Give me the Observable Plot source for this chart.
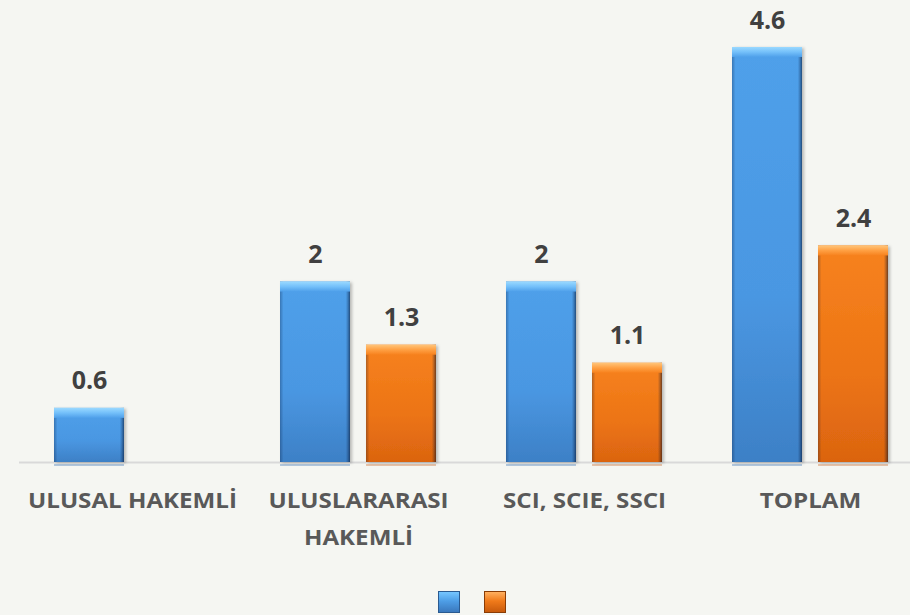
<!DOCTYPE html>
<html>
<head>
<meta charset="utf-8">
<script src="https://cdn.jsdelivr.net/npm/d3@7"></script>
<script src="https://cdn.jsdelivr.net/npm/@observablehq/plot@0.6"></script>
<style>
  html, body { margin: 0; padding: 0; background: #f5f6f2; }
  #chart { width: 910px; }
  .legend { display: flex; justify-content: center; gap: 24px; padding-top: 11px; margin-left: 34px; }
  .sw { width: 22px; height: 22px; box-sizing: border-box; }
  .sw.blue { background: linear-gradient(#75c6ff 0%, #4e9ee6 45%, #3a78bd 100%); border: 1px solid #2a5a90; }
  .sw.orange { background: linear-gradient(#ffb060 0%, #f07a1a 45%, #c85a0c 100%); border: 1px solid #8a3c05; }
</style>
</head>
<body>
<div id="chart"></div>
<script>
// ---- data ----
const categories = ["ULUSAL HAKEMLİ", "ULUSLARARASI\nHAKEMLİ", "SCI, SCIE, SSCI", "TOPLAM"];
const series1 = [0.6, 2, 2, 4.6];
const series2 = [null, 1.3, 1.1, 2.4];

const d1 = categories.map((c, i) => ({cat: c, v: series1[i]})).filter(d => d.v != null);
const d2 = categories.map((c, i) => ({cat: c, v: series2[i]})).filter(d => d.v != null);

const inset = 86;
const font = "'Open Sans', sans-serif";

const svg = Plot.plot({
  width: 910,
  height: 580,
  marginLeft: 19,
  marginRight: 0,
  marginTop: 0,
  marginBottom: 0,
  style: {background: "#f5f6f2", fontFamily: font},
  x: {domain: categories, range: [19, 923], paddingInner: 0.31, paddingOuter: 0.155, axis: null},
  y: {domain: [0, 4.6], range: [462, 47], axis: null},
  marks: [
    Plot.ruleY([0], {stroke: "#d9d9d9", strokeWidth: 2}),
    // reflection strip under baseline
    Plot.tickY(d1, {x: "cat", y: 0, dy: 2.5, stroke: "#6f98c8", strokeWidth: 1.2, insetRight: inset}),
    Plot.tickY(d2, {x: "cat", y: 0, dy: 2.5, stroke: "#d89060", strokeWidth: 1.2, insetLeft: inset}),
    // bar bodies
    Plot.barY(d1, {x: "cat", y: "v", fill: "url(#blueBody)", insetRight: inset}),
    Plot.barY(d2, {x: "cat", y: "v", fill: "url(#orangeBody)", insetLeft: inset}),
    // edge shading
    Plot.barY(d1, {x: "cat", y: "v", fill: "url(#edges)", insetRight: inset}),
    Plot.barY(d2, {x: "cat", y: "v", fill: "url(#edges)", insetLeft: inset}),
    // top bevel
    Plot.barY(d1, {x: "cat", y1: "v", y2: "v", insetBottom: -10, fill: "url(#blueTop)", insetRight: inset}),
    Plot.barY(d2, {x: "cat", y1: "v", y2: "v", insetBottom: -10, fill: "url(#orangeTop)", insetLeft: inset}),
    // value labels
    Plot.text(d1, {x: "cat", y: "v", text: d => String(d.v), dx: -43, dy: -19, lineAnchor: "bottom",
      fontSize: 25, fontWeight: 700, fill: "#404040", fontFamily: font}),
    Plot.text(d2, {x: "cat", y: "v", text: d => String(d.v), dx: 43, dy: -19, lineAnchor: "bottom",
      fontSize: 25, fontWeight: 700, fill: "#404040", fontFamily: font}),
    // category labels
    Plot.text(categories, {x: d => d, y: 0, text: d => d, dy: 19, lineAnchor: "top", lineHeight: 1.76,
      fontSize: 21, fontWeight: 700, fill: "#595959", fontFamily: font})
  ]
});

const defs = document.createElementNS("http://www.w3.org/2000/svg", "defs");
defs.innerHTML = `
  <linearGradient id="blueBody" x1="0" y1="0" x2="0" y2="1">
    <stop offset="0" stop-color="#4fa0ea"/>
    <stop offset="0.6" stop-color="#4a97e2"/>
    <stop offset="1" stop-color="#3d80c6"/>
  </linearGradient>
  <linearGradient id="orangeBody" x1="0" y1="0" x2="0" y2="1">
    <stop offset="0" stop-color="#f7821e"/>
    <stop offset="0.6" stop-color="#ec7415"/>
    <stop offset="1" stop-color="#db6410"/>
  </linearGradient>
  <linearGradient id="edges" x1="0" y1="0" x2="1" y2="0">
    <stop offset="0" stop-color="#001030" stop-opacity="0.28"/>
    <stop offset="0.05" stop-color="#001030" stop-opacity="0"/>
    <stop offset="0.94" stop-color="#001030" stop-opacity="0"/>
    <stop offset="0.97" stop-color="#001030" stop-opacity="0.25"/>
    <stop offset="1" stop-color="#000820" stop-opacity="0.55"/>
  </linearGradient>
  <linearGradient id="blueTop" x1="0" y1="0" x2="0" y2="1">
    <stop offset="0" stop-color="#9ad9ff"/>
    <stop offset="0.5" stop-color="#74c0fa"/>
    <stop offset="1" stop-color="#4fa0ea"/>
  </linearGradient>
  <linearGradient id="orangeTop" x1="0" y1="0" x2="0" y2="1">
    <stop offset="0" stop-color="#ffc57a"/>
    <stop offset="0.5" stop-color="#ffa043"/>
    <stop offset="1" stop-color="#f7821e"/>
  </linearGradient>
  <filter id="shadow" x="-10%" y="-10%" width="130%" height="130%">
    <feDropShadow dx="2" dy="1" stdDeviation="1.5" flood-color="#000" flood-opacity="0.25"/>
  </filter>`;
svg.insertBefore(defs, svg.firstChild);
const bars = svg.querySelectorAll('g[aria-label="bar"]');
if (bars[0]) bars[0].setAttribute("filter", "url(#shadow)");
if (bars[1]) bars[1].setAttribute("filter", "url(#shadow)");
const texts = svg.querySelectorAll('g[aria-label="text"]');
if (texts.length) {
  texts[texts.length - 1].querySelectorAll("text").forEach(t => {
    const tr = t.getAttribute("transform") || "";
    t.setAttribute("transform", tr + " scale(1.15,1)");
  });
}

document.getElementById("chart").appendChild(svg);

const legend = document.createElement("div");
legend.className = "legend";
legend.innerHTML = '<div class="sw blue"></div><div class="sw orange"></div>';
document.getElementById("chart").appendChild(legend);
</script>
</body>
</html>
